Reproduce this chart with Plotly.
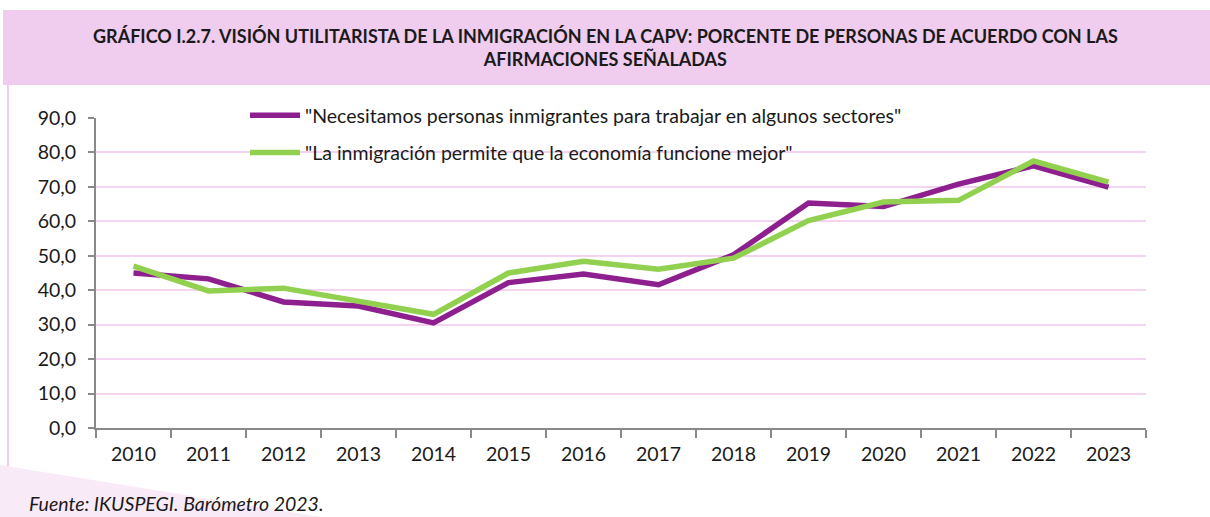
import plotly.graph_objects as go

years = ["2010", "2011", "2012", "2013", "2014", "2015", "2016", "2017",
         "2018", "2019", "2020", "2021", "2022", "2023"]
necesitamos = [45.0, 43.3, 36.6, 35.4, 30.5, 42.2, 44.7, 41.6, 50.3, 65.3, 64.3, 70.8, 76.1, 69.9]
economia = [47.0, 39.8, 40.6, 36.7, 33.0, 45.0, 48.4, 46.1, 49.3, 60.2, 65.6, 66.1, 77.5, 71.4]
series_names = ['"Necesitamos personas inmigrantes para trabajar en algunos sectores"',
                '"La inmigración permite que la economía funcione mejor"']
y_ticks = [0, 10, 20, 30, 40, 50, 60, 70, 80, 90]

W, H = 1210, 517
L, R, T, B = 96, 64, 118, 89
pw, ph = W - L - R, H - T - B

def px(x):
    return (x - L) / pw

def py(y):
    return (H - B - y) / ph

FONT = "Lato"
FS = 19.5
fig = go.Figure()
fig.add_trace(go.Scatter(x=years, y=necesitamos, mode="lines", name=series_names[0],
                         line=dict(color="#8E1F8E", width=5.5), legendgroup="a"))
fig.add_trace(go.Scatter(x=years, y=economia, mode="lines", name=series_names[1],
                         line=dict(color="#92D050", width=5.5), legendgroup="b"))

shapes = [
    dict(type="rect", xref="paper", yref="paper", x0=px(3), x1=px(1212), y0=py(85), y1=py(10),
         fillcolor="#F0CCEE", line=dict(width=0), layer="below"),
    dict(type="line", xref="paper", yref="paper", x0=px(8), x1=px(8), y0=py(85), y1=py(520),
         line=dict(color="#F0CCEE", width=2), layer="below"),
    dict(type="path", xref="paper", yref="paper",
         path=f"M {px(0)},{py(465)} L {px(340)},{py(520)} L {px(0)},{py(520)} Z",
         fillcolor="#F9EAF7", line=dict(width=0), layer="below"),
]

annotations = [
    dict(xref="paper", yref="paper", x=px(605), y=py(47), xanchor="center", yanchor="middle",
         text="GRÁFICO I.2.7. VISIÓN UTILITARISTA DE LA INMIGRACIÓN EN LA CAPV: PORCENTE DE PERSONAS DE ACUERDO CON LAS<br>AFIRMACIONES SEÑALADAS",
         showarrow=False, font=dict(family=FONT, size=18, color="#1a1a1a", weight="bold"),
         align="center"),
    dict(xref="paper", yref="paper", x=px(27), y=py(503), xanchor="left", yanchor="middle",
         text="<i>Fuente: IKUSPEGI. Barómetro 2023.</i>", showarrow=False,
         font=dict(family=FONT, size=FS, color="#1a1a1a")),
]

fig.update_layout(
    width=W, height=H,
    margin=dict(l=L, r=R, t=T, b=B),
    paper_bgcolor="white", plot_bgcolor="white",
    separators=",.",
    font=dict(family=FONT, size=FS, color="#1a1a1a"),
    shapes=shapes, annotations=annotations,
    showlegend=True,
    legend=dict(x=px(245), y=py(96), xanchor="left", yanchor="top",
                bgcolor="rgba(0,0,0,0)", font=dict(size=FS, family=FONT),
                tracegroupgap=9, itemwidth=50),
    xaxis=dict(type="category", range=[-0.5, len(years) - 0.5], tickson="boundaries",
               ticks="outside", ticklen=8,
               tickcolor="#898989", tickwidth=2, showline=True, linecolor="#898989",
               linewidth=2, showgrid=False, tickfont=dict(size=FS), ticklabelstandoff=8),
    yaxis=dict(range=[0, 90], tickvals=y_ticks, tickformat=".1f", ticks="outside",
               ticklen=6, tickcolor="#898989", tickwidth=2, showline=True,
               linecolor="#898989", linewidth=2, gridcolor="#F4D4F0", gridwidth=1.5,
               zeroline=False, tickfont=dict(size=FS), ticklabelstandoff=8),
)
fig.write_html("out.html", config={"displayModeBar": False},
               post_script="document.body.style.margin='0';document.body.style.overflow='hidden';")
